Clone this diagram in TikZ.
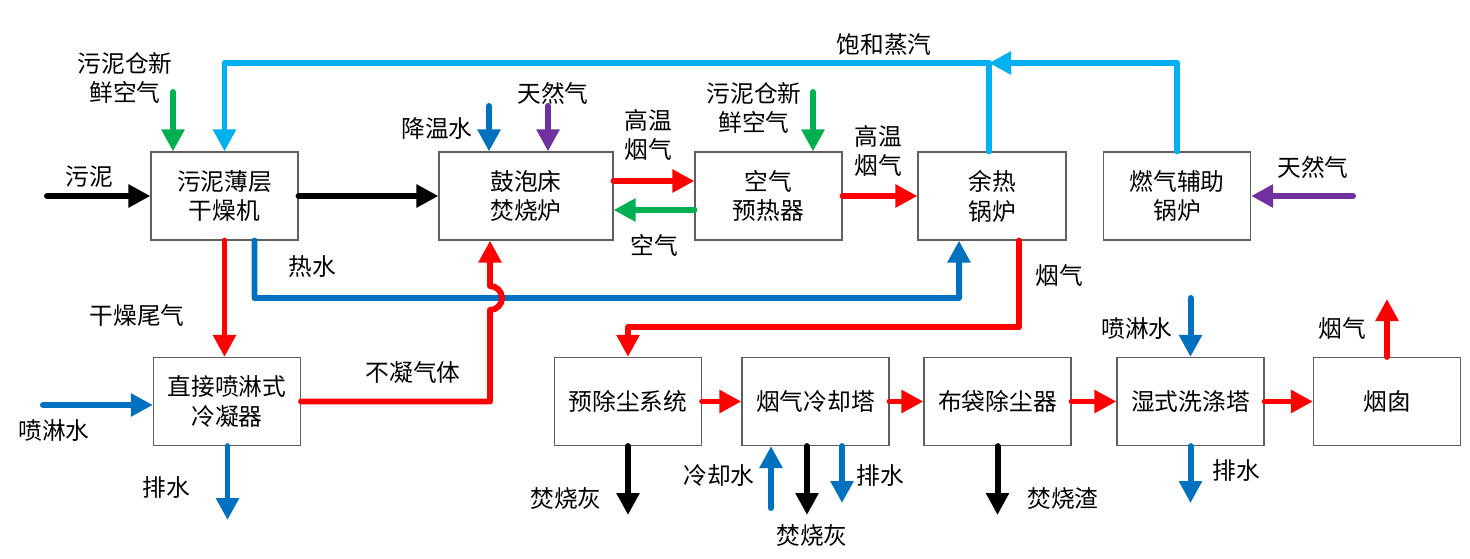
\documentclass[tikz,border=0pt]{standalone}
\usepackage{fontspec}
\setmainfont{Noto Sans CJK SC}
\usepackage{tikz}
\usetikzlibrary{arrows.meta, positioning, calc}
\definecolor{myred}{RGB}{255,0,0}
\definecolor{myblue}{RGB}{0,112,192}
\definecolor{mycyan}{RGB}{0,176,240}
\definecolor{mygreen}{RGB}{0,176,80}
\definecolor{mypurple}{RGB}{112,48,160}
\definecolor{boxgray}{RGB}{95,95,95}
\tikzset{
  unit/.style={draw=boxgray, fill=white, line width=0.7pt,
               minimum width=#1, minimum height=1.76cm, align=center, inner sep=2pt},
  unit/.default=2.94cm,
  flow/.style={line width=3.4pt, line cap=round, line join=round,
               -{Triangle[length=0.44cm, width=0.44cm]}},
  lbl/.style={align=center, inner sep=0pt},
}

\begin{document}
\begin{tikzpicture}[x=0.02cm, y=-0.02cm, font=\fontsize{13.5pt}{17pt}\selectfont]
  \useasboundingbox (0,0) rectangle (1470,558);
  % top row
  \node[unit] (dryer) at (224.5,196) {污泥薄层\\干燥机};
  \node[unit=3.48cm] (furnace) at (526,196) {鼓泡床\\焚烧炉};
  \node[unit] (preheat) at (768.5,196) {空气\\预热器};
  \node[unit=2.96cm] (whb) at (992,196) {余热\\锅炉};
  \node[unit] (aux) at (1177,196) {燃气辅助\\锅炉};
  % bottom row
  \node[unit] (cond) at (227,401.5) {直接喷淋式\\冷凝器};
  \node[unit] (predust) at (628,401.5) {预除尘系统};
  \node[unit] (cooler) at (815.5,401.5) {烟气冷却塔};
  \node[unit] (bag) at (997.5,401.5) {布袋除尘器};
  \node[unit] (scrub) at (1190.5,401.5) {湿式洗涤塔};
  \node[unit] (chimney) at (1387,401.5) {烟囱};

  % labels
  \node[lbl] (tsludge) at (89,177) {污泥};
  \node[lbl] (tair1) at (125,78) {污泥仓新\\鲜空气};
  \node[lbl] (tcoolw) at (437,128) {降温水};
  \node[lbl] (tgas1) at (553,93) {天然气};
  \node[lbl] (thot1) at (648,135) {高温\\烟气};
  \node[lbl] (tair) at (654,245) {空气};
  \node[lbl] (tair2) at (754,108) {污泥仓新\\鲜空气};
  \node[lbl] (thot2) at (878,151) {高温\\烟气};
  \node[lbl] (tsteam) at (884,45) {饱和蒸汽};
  \node[lbl] (tgas2) at (1313,167) {天然气};
  \node[lbl] (thotw) at (312,267) {热水};
  \node[lbl] (toff) at (137,315) {干燥尾气};
  \node[lbl] (tspray1) at (54,430) {喷淋水};
  \node[lbl] (tdrain1) at (166,487) {排水};
  \node[lbl] (tncg) at (413,372) {不凝气体};
  \node[lbl] (tflue) at (1059,275) {烟气};
  \node[lbl] (tash1) at (566,498) {焚烧灰};
  \node[lbl] (tcw) at (719,475) {冷却水};
  \node[lbl] (tash2) at (812,535) {焚烧灰};
  \node[lbl] (tdrain2) at (880,475) {排水};
  \node[lbl] (tslag) at (1063,498) {焚烧渣};
  \node[lbl] (tspray2) at (1137,328) {喷淋水};
  \node[lbl] (tdrain3) at (1236,470) {排水};
  \node[lbl] (tstack) at (1342,328) {烟气};

  % free ends
  \coordinate (sludgein) at (47,196);
  \coordinate (air1) at (173,92);
  \coordinate (coolw) at (489,106);
  \coordinate (gas1) at (548,106);
  \coordinate (air2) at (813,92);
  \coordinate (gas2) at (1353,196);
  \coordinate (steamy) at (0,63);
  \coordinate (hotw) at (959,298);
  \coordinate (hopin) at (490,310);
  \coordinate (flue) at (628,327);
  \coordinate (spray1) at (43,405);
  \coordinate (drain1) at (227.5,520);
  \coordinate (ash1) at (628,515);
  \coordinate (cwin) at (771,508);
  \coordinate (ash2) at (807,515);
  \coordinate (drain2) at (842,503);
  \coordinate (slag) at (997.5,515);
  \coordinate (spray2) at (1190.5,298);
  \coordinate (drain3) at (1190.5,503);
  \coordinate (stack) at (1387,299);

  % steam loop
  \draw[flow, mycyan] ([xshift=-0.06cm]whb.north) -- ([xshift=-0.06cm]whb.north |- steamy) -| (dryer.north);
  \draw[flow, mycyan] (aux.north) |- ([xshift=-0.06cm]whb.north |- steamy);
  % top row flows
  \draw[flow] (sludgein) -- (dryer.west);
  \draw[flow, mygreen] (air1) -- (air1 |- dryer.north);
  \draw[flow] (dryer.east) -- (furnace.west);
  \draw[flow, myblue] (coolw) -- (coolw |- furnace.north);
  \draw[flow, mypurple] (gas1) -- (gas1 |- furnace.north);
  \draw[flow, myred] ([yshift=0.3cm]furnace.east) -- ([yshift=0.3cm]preheat.west);
  \draw[flow, mygreen] ([yshift=-0.28cm]preheat.west) -- ([yshift=-0.28cm]furnace.east);
  \draw[flow, mygreen] (air2) -- (air2 |- preheat.north);
  \draw[flow, myred] (preheat.east) -- (whb.west);
  \draw[flow, mypurple] (gas2) -- (aux.east);
  % hot water and condenser
  \draw[flow, myblue] ([xshift=0.6cm]dryer.south) |- (hotw) -- ([xshift=-0.66cm]whb.south);
  \draw[flow, myred] (dryer.south) -- (dryer.south |- cond.north);
  \draw[flow, myblue] (spray1) -- (spray1 -| cond.west);
  \draw[flow, myblue] (cond.south -| drain1) -- (drain1);
  \draw[flow, myred] (cond.east) -- (cond.east -| hopin) -- (hopin)
    arc[start angle=-90, end angle=90, radius=0.24cm] -- ([xshift=-0.72cm]furnace.south);
  % flue gas line
  \draw[flow, myred] ([xshift=0.54cm]whb.south) -- ([xshift=0.54cm]whb.south |- flue) -| (predust.north);
  \draw[flow, myred] (predust.east) -- (cooler.west);
  \draw[flow, myred] (cooler.east) -- (bag.west);
  \draw[flow, myred] (bag.east) -- (scrub.west);
  \draw[flow, myred] (scrub.east) -- (chimney.west);
  \draw[flow, myred] (chimney.north) -- (stack);
  % bottom outlets
  \draw[flow] (predust.south) -- (ash1);
  \draw[flow, myblue] (cwin) -- (cwin |- cooler.south);
  \draw[flow] (ash2 |- cooler.south) -- (ash2);
  \draw[flow, myblue] (drain2 |- cooler.south) -- (drain2);
  \draw[flow] (bag.south) -- (slag);
  \draw[flow, myblue] (spray2) -- (scrub.north);
  \draw[flow, myblue] (scrub.south) -- (drain3);
\end{tikzpicture}
\end{document}
